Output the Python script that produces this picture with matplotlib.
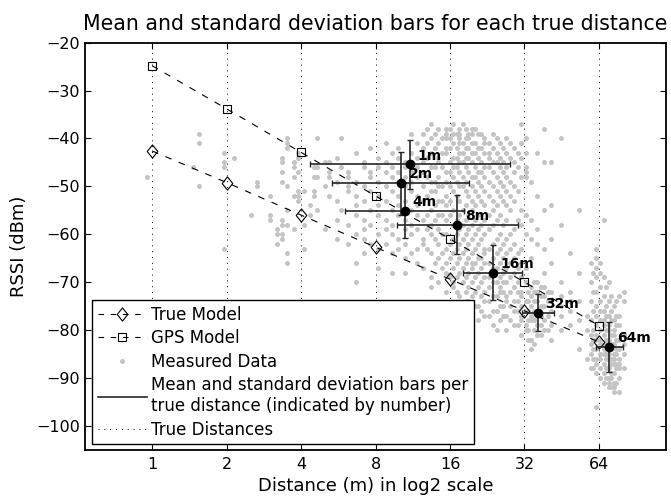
import numpy as np
import matplotlib
matplotlib.use('Agg')
import matplotlib.pyplot as plt
from matplotlib.lines import Line2D
from matplotlib.path import Path

plt.rcParams['font.family'] = ['DejaVu Sans']

# ---------------- data ----------------
true_dist = [1, 2, 4, 8, 16, 32, 64]
true_model = [-42.6, -49.2, -56.0, -62.7, -69.4, -76.0, -82.5]
gps_model = [-24.8, -33.8, -42.9, -52.0, -61.0, -70.0, -79.1]

bar_labels = ['1m', '2m', '4m', '8m', '16m', '32m', '64m']
mean_dist = [11.0, 10.13, 10.48, 17.15, 23.84, 36.25, 70.5]
std_log2 = [1.34, 0.92, 0.80, 0.815, 0.395, 0.21, 0.185]
mean_rssi = [-45.4, -49.35, -55.1, -58.05, -68.0, -76.35, -83.6]
std_rssi = [5.15, 6.6, 5.7, 6.15, 5.65, 3.85, 5.2]

meas_cols_m = [0.95, 1.47, 1.55, 1.95, 2.15, 2.5, 2.65, 3.0, 3.2, 3.35, 3.5, 3.75,
               3.9, 4.1, 4.35, 4.5, 4.65, 5.0, 5.2, 5.6, 5.8, 6.2, 6.7, 7.2, 7.6,
               8.2, 8.8, 9.3, 9.9, 10.5, 11.1, 11.8, 12.5, 12.9, 13.4, 13.9, 14.3,
               14.8, 15.4, 16.0, 16.5, 17.0, 17.4, 18.0, 18.5, 19.0, 19.6, 20.2,
               20.8, 21.4, 22.0, 23.0, 23.9, 24.7, 25.5, 26.2, 27.0, 28.0, 29.0,
               30.0, 31.0, 32.5, 33.2, 34.0, 35.0, 36.0, 37.2, 38.5, 39.7, 41.0,
               45.0, 49.0, 53.0, 57.0, 59.5, 60.8, 62.0, 64.5, 67.0, 68.5, 70.0,
               71.7, 73.5, 75.2, 77.0, 80.5]
meas_cols_rssi = [
    [-48],
    [-46],
    [-39, -41, -50],
    [-43, -45, -46, -63],
    [-44],
    [-56],
    [-49, -50],
    [-52, -56, -57],
    [-59, -60, -62],
    [-44, -45, -47, -49, -57, -58, -60, -61],
    [-40, -41, -42, -50, -55, -58, -64, -66],
    [-45, -46, -48, -52, -59],
    [-43, -44, -47, -51, -52, -53],
    [-51, -58, -63],
    [-54, -56],
    [-46, -48, -51, -52],
    [-40, -46, -48, -55],
    [-45, -50, -59],
    [-45, -47, -48, -52],
    [-44, -49, -53, -57, -61],
    [-40, -46, -55],
    [-47, -48, -50, -51, -58, -62],
    [-43, -49, -52, -54, -56, -60, -66, -70],
    [-45, -46, -50, -53, -57, -59, -61, -64],
    [-42, -47, -48, -51, -55, -58, -62],
    [-44, -46, -49, -52, -54, -56, -60, -63, -67],
    [-41, -45, -47, -50, -53, -57, -59, -62],
    [-43, -46, -48, -51, -55, -58, -60, -64, -68],
    [-42, -44, -47, -49, -52, -54, -56, -61, -63],
    [-45, -46, -48, -50, -53, -57, -59, -62, -65, -68],
    [-39, -43, -47, -49, -51, -55, -58, -60, -64],
    [-41, -44, -46, -48, -52, -54, -56, -59, -63, -66],
    [-39, -42, -45, -47, -50, -53, -57, -61, -62, -67],
    [-38, -41, -44, -48, -52, -56, -59, -63],
    [-37, -40, -43, -46, -49, -51, -55, -58, -60, -64, -69, -71],
    [-39, -42, -46, -49, -51, -54, -57, -61, -66],
    [-38, -41, -44, -45, -48, -50, -53, -56, -59, -62, -65, -70],
    [-40, -43, -46, -50, -53, -56, -60, -64, -67],
    [-38, -39, -40, -42, -43, -47, -49, -52, -54, -57, -60, -63, -66, -68, -72],
    [-38, -40, -42, -45, -47, -50, -53, -56, -62, -65, -69],
    [-37, -39, -41, -44, -46, -48, -51, -55, -58, -61, -64, -67, -70, -71],
    [-39, -42, -44, -46, -49, -52, -57, -60, -63, -66, -69, -72],
    [-38, -39, -40, -41, -43, -45, -47, -50, -53, -56, -59, -62, -65, -68, -73],
    [-37, -41, -43, -45, -48, -50, -55, -58, -61, -64, -67, -70],
    [-38, -40, -42, -44, -46, -49, -51, -54, -57, -60, -63, -66, -69, -72, -74],
    [-39, -40, -42, -44, -47, -52, -56, -59, -62, -65, -68, -71, -74],
    [-38, -39, -41, -43, -45, -48, -50, -53, -55, -58, -61, -64, -66, -67, -70, -73, -76],
    [-38, -41, -43, -46, -48, -51, -54, -57, -60, -63, -66, -69, -72, -75],
    [-39, -42, -44, -47, -49, -52, -56, -59, -62, -65, -68, -71, -75, -78],
    [-39, -42, -45, -47, -50, -53, -58, -61, -65, -67, -70, -73, -76],
    [-40, -41, -43, -46, -48, -51, -54, -57, -60, -63, -64, -66, -69, -72, -74, -77],
    [-41, -43, -44, -46, -49, -52, -56, -59, -63, -66, -69, -71, -74, -77],
    [-39, -42, -45, -47, -50, -53, -55, -58, -62, -65, -67, -68, -70, -73, -76, -79],
    [-40, -43, -45, -48, -51, -54, -57, -61, -64, -67, -70, -73, -76, -80],
    [-41, -44, -46, -49, -52, -56, -60, -63, -66, -69, -71, -72, -75, -78],
    [-42, -45, -47, -50, -53, -58, -62, -65, -68, -70, -72, -75, -77],
    [-40, -43, -46, -48, -51, -54, -57, -61, -64, -67, -70, -73, -74, -77, -80],
    [-41, -44, -49, -52, -55, -60, -63, -66, -69, -72, -75, -78],
    [-42, -45, -47, -50, -53, -59, -62, -65, -68, -71, -74, -76, -79],
    [-43, -46, -51, -57, -64, -67, -70, -72, -74, -76, -79],
    [-37, -41, -44, -48, -55, -58, -63, -66, -69, -72, -73, -75, -77, -78, -81],
    [-40, -43, -46, -47, -48, -56, -60, -67, -70, -74, -76, -79, -80],
    [-72, -74, -76, -78, -80, -82],
    [-49, -57, -61, -65, -71, -73, -75, -77, -78, -82, -84],
    [-70, -72, -74, -76, -78, -80, -83],
    [-43, -52, -59, -62, -70, -72, -74, -76, -77, -79, -81],
    [-71, -73, -75, -77, -79, -81],
    [-38, -45, -55, -63, -68, -71, -73, -75, -78, -80],
    [-72, -74, -77, -80],
    [-45, -54, -61, -66, -72, -74, -76, -79, -82],
    [-40, -58, -70, -73, -75, -77, -80],
    [-64, -72, -74, -76, -79],
    [-55, -68, -74, -78, -84],
    [-77, -80, -86],
    [-66, -70, -74, -78, -81, -83, -85, -88],
    [-68, -72, -76, -80, -82, -84, -86, -88],
    [-63, -65, -67, -69, -72, -75, -77, -79, -81, -82, -84, -86, -87, -89, -96],
    [-66, -68, -71, -74, -76, -78, -80, -82, -83, -85, -86, -88, -90],
    [-57, -69, -73, -76, -78, -79, -81, -83, -84, -85, -87, -89, -91],
    [-71, -75, -77, -80, -82, -83, -85, -86, -88, -90],
    [-70, -74, -77, -79, -80, -82, -84, -85, -86, -88, -90, -91, -92],
    [-73, -76, -78, -81, -83, -84, -86, -87, -89, -90, -92],
    [-75, -78, -80, -81, -83, -85, -86, -87, -89, -91, -92, -93],
    [-74, -77, -79, -82, -84, -85, -87, -88, -91],
    [-73, -77, -79, -82, -84, -86, -87, -88, -90, -93],
    [-72, -74, -81, -83, -85, -88],
]

x_ticks_m = [1, 2, 4, 8, 16, 32, 64]
y_ticks = [-100, -90, -80, -70, -60, -50, -40, -30, -20]

# ---------------- figure ----------------
fig = plt.figure(figsize=(6.71, 4.98), dpi=100)
ax = fig.add_axes([85 / 671, 1 - 449.7 / 498, 581 / 671, 407 / 498])

meas_x = np.concatenate([np.full(len(ys), np.log2(m)) for m, ys in zip(meas_cols_m, meas_cols_rssi)])
meas_y = np.concatenate([np.array(ys, float) for ys in meas_cols_rssi])

grey = '#c4c4c4'
dot_style = (0, (1, 5))

for d in true_dist:
    ax.axvline(np.log2(d), color='k', lw=0.7, ls=dot_style, zorder=1)

ax.plot(meas_x, meas_y, 'o', ms=3.6, color=grey, mec='none', zorder=2)

diamond = Path([(0, 1), (0.8, 0), (0, -1), (-0.8, 0), (0, 1)],
               [Path.MOVETO, Path.LINETO, Path.LINETO, Path.LINETO, Path.CLOSEPOLY])

lx_true = np.log2(true_dist)
ax.plot(lx_true, true_model, color='k', lw=0.8, dashes=(6, 7), marker=diamond, ms=9.5,
        mfc='none', mec='k', mew=0.8, zorder=3)
ax.plot(lx_true, gps_model, color='k', lw=0.8, dashes=(6, 7), marker='s', ms=6,
        mfc='none', mec='k', mew=0.8, zorder=3)

ax.errorbar(np.log2(mean_dist), mean_rssi, xerr=std_log2, yerr=std_rssi, fmt='o',
            color='k', ms=6, ecolor='#262626', elinewidth=1.2, capsize=2.2,
            capthick=1.0, zorder=4)
for lab, md, mr in zip(bar_labels, mean_dist, mean_rssi):
    ax.annotate(lab, (np.log2(md), mr), xytext=(5.5, 6.3), textcoords='offset points',
                fontsize=10, fontweight='bold', va='center', ha='left', zorder=5)

ax.set_xlim(-0.9, 6.9)
ax.set_ylim(-105, -20)
ax.set_xticks(np.log2(x_ticks_m))
ax.set_xticklabels([str(v) for v in x_ticks_m])
ax.set_yticks(y_ticks)
ax.tick_params(direction='in', top=True, right=True, length=4, width=0.8,
               labelsize=11.5)
ax.tick_params(axis='x', pad=5)
ax.tick_params(axis='y', pad=3.5)
for s in ax.spines.values():
    s.set_linewidth(1.3)

ax.set_title('Mean and standard deviation bars for each true distance',
             fontsize=14.8, pad=9)
ax.set_xlabel('Distance (m) in log2 scale', fontsize=13, labelpad=4)
ax.set_ylabel('RSSI (dBm)', fontsize=13, labelpad=6)

h1 = Line2D([], [], color='k', lw=0.8, dashes=(5, 6), marker=diamond, ms=9.5,
            mfc='none', mec='k', mew=0.8)
h2 = Line2D([], [], color='k', lw=0.8, dashes=(5, 6), marker='s', ms=6,
            mfc='none', mec='k', mew=0.8)
h3 = Line2D([], [], ls='none', marker='o', ms=3.6, color=grey, mec='none')
h4 = Line2D([], [], color='#262626', lw=1.2)
h5 = Line2D([], [], color='k', lw=0.7, ls=dot_style)
leg = ax.legend([h1, h2, h3, h4, h5],
                ['True Model', 'GPS Model', 'Measured Data',
                 'Mean and standard deviation bars per\ntrue distance (indicated by number)',
                 'True Distances'],
                loc='upper left', bbox_to_anchor=(0.012, 0.368), borderaxespad=0,
                fontsize=12.0, handlelength=2.95, handletextpad=0.25, labelspacing=0.33,
                borderpad=0.35, fancybox=False, edgecolor='k', framealpha=1,
                numpoints=1)
leg.get_frame().set_linewidth(1.0)
leg.set_zorder(10)

fig.savefig('out.png', dpi=100)
